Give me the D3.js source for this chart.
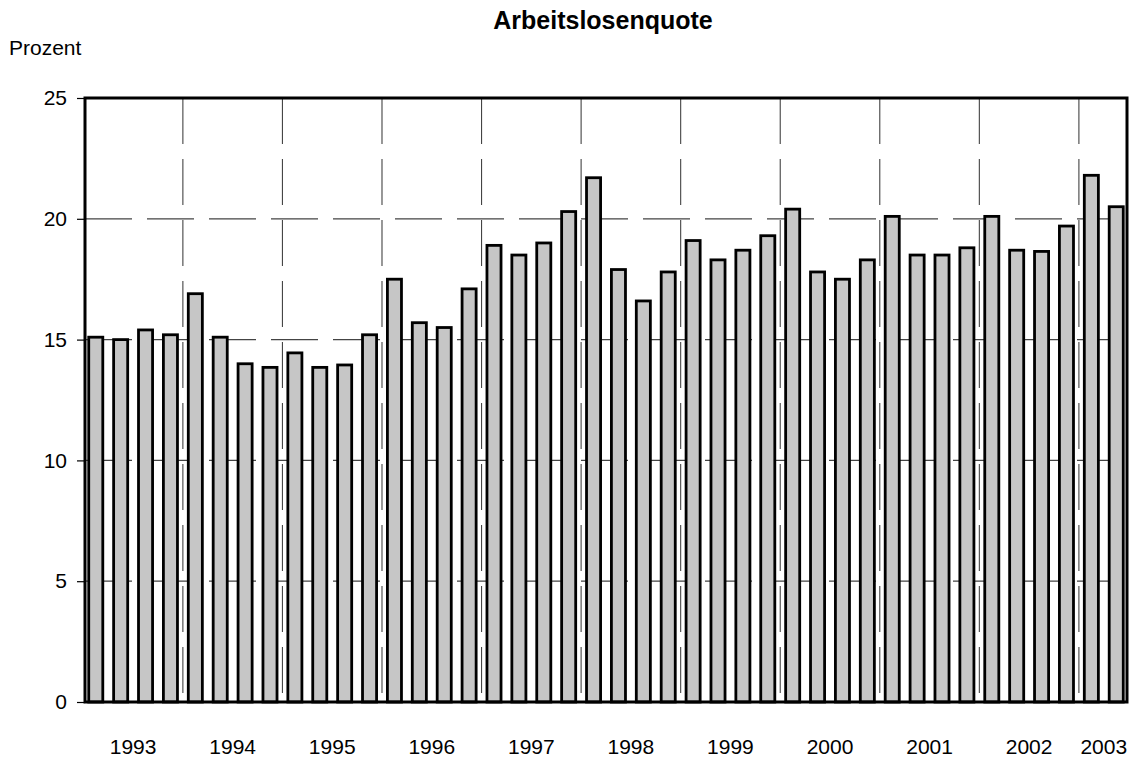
<!DOCTYPE html>
<html lang="de">
<head>
  <meta charset="UTF-8">
  <title>Arbeitslosenquote</title>
  <style>
    body {
      margin: 0;
      background: #fff;
      font-family: 'Liberation Sans', Arial, Helvetica, sans-serif;
    }
    svg {
      display: block;
    }
  </style>
</head>
<body>

<svg width="1139" height="760"></svg>

<script src="https://d3js.org/d3.v7.min.js"></script>
<script>
// quarterly unemployment rate, 1993 Q1 .. 2003 Q2
const years = ["1993", "1994", "1995", "1996", "1997", "1998", "1999", "2000", "2001", "2002", "2003"];
const quarters = ["I", "II", "III", "IV"];
const values = [
  15.1, 15.0, 15.4, 15.2,
  16.9, 15.1, 14.0, 13.85,
  14.45, 13.85, 13.95, 15.2,
  17.5, 15.7, 15.5, 17.1,
  18.9, 18.5, 19.0, 20.3,
  21.7, 17.9, 16.6, 17.8,
  19.1, 18.3, 18.7, 19.3,
  20.4, 17.8, 17.5, 18.3,
  20.1, 18.5, 18.5, 18.8,
  20.1, 18.7, 18.65, 19.7,
  21.8, 20.5
];
const yTicks = [0, 5, 10, 15, 20, 25];

const periods = d3.cross(years, quarters).slice(0, values.length)
  .map(([year, q], i) => ({ year, q, value: values[i], i }));

const svg = d3.select("svg");
const margin = { top: 98, right: 12, bottom: 58, left: 85 };
const width = 1139 - margin.left - margin.right;
const height = 760 - margin.top - margin.bottom;

const x = d3.scaleBand()
  .domain(periods.map(d => d.i))
  .range([0, width])
  .paddingInner(0.435)
  .paddingOuter(0.15);

const y = d3.scaleLinear()
  .domain([0, 25])
  .range([height, 0]);

const g = svg.append("g").attr("transform", `translate(${margin.left},${margin.top})`);

// title and unit
svg.append("text")
  .attr("x", 603)
  .attr("y", 29)
  .attr("text-anchor", "middle")
  .attr("font-size", "25px")
  .attr("font-weight", "bold")
  .text("Arbeitslosenquote");

svg.append("text")
  .attr("x", 9)
  .attr("y", 55)
  .attr("font-size", "21px")
  .text("Prozent");

// horizontal grid
g.append("g")
  .selectAll("line")
  .data(yTicks.filter(t => t > 0 && t < 25))
  .join("line")
  .attr("x1", 0)
  .attr("x2", width)
  .attr("y1", d => y(d))
  .attr("y2", d => y(d))
  .attr("stroke", "#444")
  .attr("stroke-width", 1.2)
  .attr("stroke-dasharray", "47,15");

// vertical grid between years
const step = x.step();
const yearBreaks = periods.filter(d => d.i > 0 && d.q === "I");
g.append("g")
  .selectAll("line")
  .data(yearBreaks)
  .join("line")
  .attr("x1", d => x(d.i) - step * x.paddingInner() / 2)
  .attr("x2", d => x(d.i) - step * x.paddingInner() / 2)
  .attr("y1", 0)
  .attr("y2", height)
  .attr("stroke", "#444")
  .attr("stroke-width", 1.1)
  .attr("stroke-dasharray", "46,15");

// bars
g.append("g")
  .selectAll("rect")
  .data(periods)
  .join("rect")
  .attr("x", d => x(d.i))
  .attr("y", d => y(d.value))
  .attr("width", x.bandwidth())
  .attr("height", d => y(0) - y(d.value))
  .attr("fill", "#c6c6c6")
  .attr("stroke", "#000")
  .attr("stroke-width", 2.8);

// frame
g.append("rect")
  .attr("x", 0)
  .attr("y", 0)
  .attr("width", width)
  .attr("height", height)
  .attr("fill", "none")
  .attr("stroke", "#000")
  .attr("stroke-width", 3);

// y axis
const yAxis = g.append("g")
  .call(d3.axisLeft(y).tickValues(yTicks).tickSize(8).tickPadding(10));
yAxis.select(".domain").remove();
yAxis.selectAll(".tick line").attr("stroke", "#000").attr("stroke-width", 1.2);
yAxis.selectAll(".tick text")
  .attr("fill", "#000")
  .attr("font-size", "21px")
  .attr("font-family", "'Liberation Sans', Arial, sans-serif");

// year labels centred under each year's bars
const yearCenters = d3.rollups(periods, v => d3.mean(v, d => x(d.i) + x.bandwidth() / 2), d => d.year);
g.append("g")
  .selectAll("text")
  .data(yearCenters)
  .join("text")
  .attr("x", d => d[1])
  .attr("y", height + 52)
  .attr("text-anchor", "middle")
  .attr("font-size", "21px")
  .text(d => d[0]);
</script>

</body>
</html>
